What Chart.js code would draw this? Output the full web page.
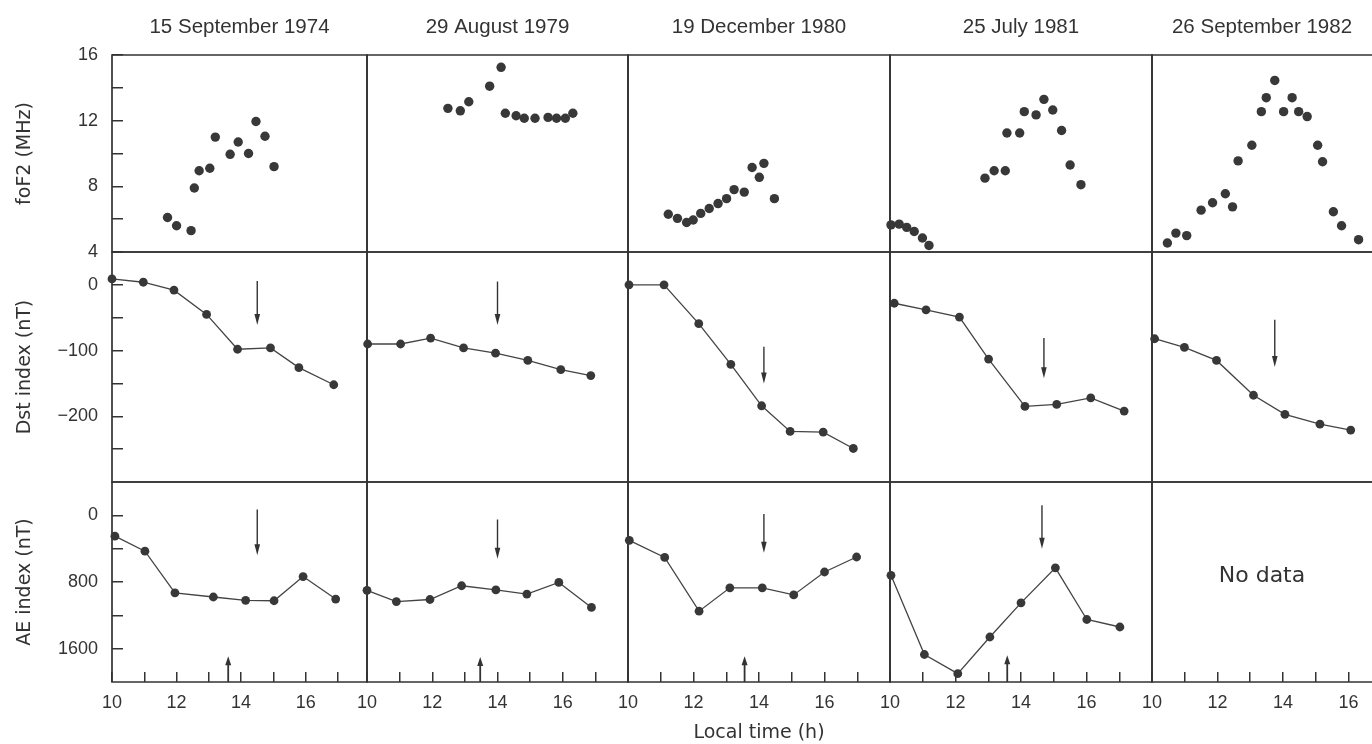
<!DOCTYPE html>
<html><head><meta charset="utf-8">
<script src="https://cdn.jsdelivr.net/npm/chart.js@4.4.1/dist/chart.umd.min.js"></script>
<style>
html,body{margin:0;padding:0;background:#fff;}
#wrap{position:relative;width:1372px;height:744px;overflow:hidden;background:#fff;}
#wrap canvas{position:absolute;}
</style></head><body><div id="wrap"></div>
<script>
// ---------------- DATA ----------------
const dates = ['15 September 1974', '29 August 1979', '19 December 1980', '25 July 1981', '26 September 1982'];

const hourTicks = [10, 11, 12, 13, 14, 15, 16, 17];
const hourLabels = [10, 12, 14, 16];
const fof2Ticks = [4, 6, 8, 10, 12, 14, 16];
const fof2Labels = [4, 8, 12, 16];
const dstTicks = [-250, -200, -150, -100, -50, 0];
const dstLabels = [0, -100, -200];
const aeTicks = [0, 400, 800, 1200, 1600];
const aeLabels = [0, 800, 1600];

// foF2 (MHz) : [local time (h), value]
const fof2_1974 = [[11.72,6.1],[12.0,5.6],[12.45,5.3],[12.55,7.9],[12.7,8.95],[13.03,9.1],[13.2,11.0],[13.66,9.95],[13.91,10.7],[14.23,10.0],[14.46,11.95],[14.74,11.05],[15.02,9.2]];
const fof2_1979 = [[12.48,12.75],[12.86,12.6],[13.12,13.15],[13.76,14.1],[14.11,15.25],[14.24,12.45],[14.57,12.3],[14.82,12.15],[15.15,12.15],[15.55,12.2],[15.81,12.15],[16.08,12.15],[16.31,12.45]];
const fof2_1980 = [[11.23,6.3],[11.51,6.05],[11.79,5.8],[11.99,5.95],[12.22,6.35],[12.48,6.65],[12.75,6.95],[13.01,7.25],[13.24,7.8],[13.55,7.65],[13.79,9.15],[14.01,8.55],[14.15,9.4],[14.47,7.25]];
const fof2_1981 = [[10.03,5.65],[10.28,5.7],[10.51,5.5],[10.74,5.25],[10.99,4.85],[11.19,4.4],[12.9,8.5],[13.18,8.95],[13.52,8.95],[13.57,11.25],[13.96,11.25],[14.1,12.55],[14.46,12.35],[14.7,13.3],[14.97,12.65],[15.24,11.4],[15.5,9.3],[15.83,8.1]];
const fof2_1982 = [[10.47,4.55],[10.73,5.15],[11.06,5.0],[11.5,6.55],[11.85,7.0],[12.24,7.55],[12.46,6.75],[12.63,9.55],[13.05,10.5],[13.34,12.55],[13.49,13.4],[13.75,14.45],[14.02,12.55],[14.28,13.4],[14.48,12.55],[14.74,12.25],[15.06,10.5],[15.21,9.5],[15.54,6.45],[15.79,5.6],[16.31,4.75]];

// Dst index (nT)
const dst_1974 = [[10.0,9],[10.97,4],[11.92,-8],[12.93,-45],[13.89,-98],[14.91,-96],[15.79,-126],[16.87,-152]];
const dst_1979 = [[10.02,-90],[11.03,-90],[11.95,-81],[12.96,-96],[13.94,-104],[14.93,-115],[15.94,-129],[16.86,-138]];
const dst_1980 = [[10.03,0],[11.1,0],[12.16,-59],[13.14,-121],[14.08,-184],[14.95,-223],[15.96,-224],[16.88,-249]];
const dst_1981 = [[10.13,-28],[11.1,-38],[12.12,-49],[13.01,-113],[14.12,-185],[15.09,-182],[16.13,-172],[17.15,-192]];
const dst_1982 = [[10.08,-82],[10.99,-95],[11.97,-115],[13.1,-168],[14.06,-197],[15.13,-212],[16.07,-221]];

// AE index (nT)
const ae_1974 = [[10.09,250],[11.02,430],[11.95,930],[13.14,980],[14.14,1020],[15.02,1025],[15.92,735],[16.93,1005]];
const ae_1979 = [[10.0,900],[10.9,1035],[11.93,1010],[12.9,845],[13.95,895],[14.9,945],[15.88,805],[16.88,1105]];
const ae_1980 = [[10.04,300],[11.12,505],[12.17,1150],[13.11,870],[14.1,870],[15.06,955],[16.0,680],[16.98,500]];
const ae_1981 = [[10.03,720],[11.05,1670],[12.07,1900],[13.05,1460],[14.0,1050],[15.05,630],[16.01,1250],[17.02,1340]];
const ae_1982 = null; // No data

// Arrow annotations: [time, from, to]
const dstArrows = [[14.5,6,-61],[14.0,5,-61],[14.15,-94,-150],[14.7,-81,-142],[13.75,-53,-125]];
const aeDownArrows = [[14.5,-70,480],[14.0,50,520],[14.15,-15,448],[14.64,-120,400]];
const aeUpArrows = [[13.6,1690],[13.47,1700],[13.56,1690],[13.58,1680]];
const noDataText = 'No data';

// ---------------- LAYOUT / STYLE ----------------
const fof2 = [fof2_1974, fof2_1979, fof2_1980, fof2_1981, fof2_1982];
const dst = [dst_1974, dst_1979, dst_1980, dst_1981, dst_1982];
const ae = [ae_1974, ae_1979, ae_1980, ae_1981, ae_1982];

const INK = '#333333';
const DOT = '#383838';
const COLS = [
  {l:112, r:367, xmax:17.9},
  {l:367, r:628, xmax:18},
  {l:628, r:890, xmax:18},
  {l:890, r:1152, xmax:18},
  {l:1152, r:1372, xmax:16.72, open:true}
];
const ROWS = [{t:55, b:252}, {t:252, b:482}, {t:482, b:682}];
const M = 44;
const Y_W = 112, TITLE_H = 55, X_H = 62;

const yDefs = [
  {min:4, max:16, reverse:false, ticks:fof2Ticks, labels:fof2Labels, title:'foF2 (MHz)'},
  {min:-300, max:50, reverse:false, ticks:dstTicks, labels:dstLabels, title:'Dst index (nT)'},
  {min:-400, max:2000, reverse:true, ticks:aeTicks, labels:aeLabels, title:'AE index (nT)'}
];

function drawArrow(ctx, x, y1, y2, head, halfW) {
  const dir = Math.sign(y2 - y1);
  ctx.beginPath();
  ctx.moveTo(x, y1);
  ctx.lineTo(x, y2 - dir * head * 0.7);
  ctx.stroke();
  ctx.beginPath();
  ctx.moveTo(x, y2);
  ctx.lineTo(x - halfW, y2 - dir * head);
  ctx.lineTo(x + halfW, y2 - dir * head);
  ctx.closePath();
  ctx.fill();
}

const marksPlugin = {
  id: 'marks',
  beforeDatasetsDraw(chart, args, o) {
    const {ctx, chartArea: a} = chart;
    ctx.save();
    ctx.strokeStyle = INK;
    ctx.lineWidth = 1.7;
    ctx.lineCap = 'square';
    ctx.beginPath();
    ctx.moveTo(a.left, a.bottom); ctx.lineTo(a.left, a.top); ctx.lineTo(a.right, a.top);
    if (!o.open) { ctx.moveTo(a.right, a.top); ctx.lineTo(a.right, a.bottom); }
    ctx.moveTo(a.left, a.bottom); ctx.lineTo(a.right, a.bottom);
    ctx.stroke();
    ctx.restore();
  },
  afterDatasetsDraw(chart, args, o) {
    const {ctx, chartArea: a} = chart;
    const xs = chart.scales.x, ys = chart.scales.y;
    ctx.save();
    ctx.strokeStyle = INK; ctx.fillStyle = INK; ctx.lineWidth = 1.4;
    if (o.row === 1) {
      const d = dstArrows[o.col];
      if (d) drawArrow(ctx, xs.getPixelForValue(d[0]), ys.getPixelForValue(d[1]), ys.getPixelForValue(d[2]), 11, 2.8);
    }
    if (o.row === 2) {
      const d = aeDownArrows[o.col];
      if (d) drawArrow(ctx, xs.getPixelForValue(d[0]), ys.getPixelForValue(d[1]), ys.getPixelForValue(d[2]), 11, 2.8);
      const u = aeUpArrows[o.col];
      if (u) { ctx.lineWidth = 1.8; drawArrow(ctx, xs.getPixelForValue(u[0]), a.bottom, ys.getPixelForValue(u[1]), 9, 3); }
      if (!ae[o.col]) {
        ctx.font = '22px "DejaVu Sans"';
        ctx.textAlign = 'center'; ctx.textBaseline = 'middle';
        ctx.fillText(noDataText, (a.left + a.right) / 2, ys.getPixelForValue(730));
      }
    }
    ctx.restore();
  }
};

const wrap = document.getElementById('wrap');
const fmt = v => String(v).replace('-', '\u2212');

for (let r = 0; r < 3; r++) {
  for (let c = 0; c < 5; c++) {
    const col = COLS[c], row = ROWS[r], yd = yDefs[r];
    const showX = r === 2, showY = c === 0;
    const exL = showY ? Y_W : 0, exT = r === 0 ? TITLE_H : 0, exB = showX ? X_H : 0;
    const cv = document.createElement('canvas');
    const w = (col.r - col.l) + exL + 2 * M;
    const h = (row.b - row.t) + exT + exB + 2 * M;
    cv.width = w; cv.height = h;
    cv.style.left = (col.l - exL - M) + 'px';
    cv.style.top = (row.t - exT - M) + 'px';
    cv.style.width = w + 'px'; cv.style.height = h + 'px';
    wrap.appendChild(cv);

    const series = r === 0 ? fof2[c] : (r === 1 ? dst[c] : ae[c]);
    const datasets = series ? [{
      data: series.map(p => ({x: p[0], y: p[1]})),
      showLine: r > 0,
      borderColor: '#444',
      borderWidth: 1.3,
      pointRadius: r === 0 ? 4.7 : 4.4,
      pointBackgroundColor: DOT,
      pointBorderColor: DOT,
      pointBorderWidth: 0,
      tension: 0,
      clip: false
    }] : [];

    new Chart(cv, {
      type: 'scatter',
      data: {datasets},
      plugins: [marksPlugin],
      options: {
        animation: false,
        responsive: false,
        devicePixelRatio: 1,
        events: [],
        layout: {padding: M, autoPadding: false},
        plugins: {
          legend: {display: false},
          tooltip: {enabled: false},
          title: r === 0 ? {
            display: true, text: dates[c], fullSize: false, color: INK,
            font: {family: 'Liberation Sans', size: 20.5, weight: 'normal'},
            padding: {top: 15, bottom: 15.4}
          } : {display: false},
          marks: {row: r, col: c, open: !!col.open}
        },
        scales: {
          x: {
            type: 'linear', min: 10, max: col.xmax, display: showX, position: 'bottom',
            afterBuildTicks: s => { s.ticks = hourTicks.filter(v => v < col.xmax).map(v => ({value: v})); },
            afterFit: s => { s.height = showX ? X_H : 0; },
            grid: {display: true, drawOnChartArea: false, drawTicks: true, tickLength: -10, color: INK, lineWidth: 1.5},
            border: {display: false},
            ticks: {
              callback: v => hourLabels.includes(v) ? String(v) : '',
              font: {family: 'Liberation Sans', size: 18}, color: INK, padding: 20,
              maxRotation: 0, minRotation: 0, autoSkip: false
            },
            title: {display: c === 2, text: 'Local time (h)', color: INK,
              font: {family: 'DejaVu Sans', size: 19}, padding: {top: 0, bottom: 0}}
          },
          y: {
            type: 'linear', min: yd.min, max: yd.max, reverse: yd.reverse, display: showY, position: 'left',
            afterBuildTicks: s => { s.ticks = yd.ticks.map(v => ({value: v})); },
            afterFit: s => { s.width = showY ? Y_W : 0; },
            grid: {display: true, drawOnChartArea: false, drawTicks: true, tickLength: -11, color: INK, lineWidth: 1.5},
            border: {display: false},
            ticks: {
              callback: v => yd.labels.includes(v) ? fmt(v) : '',
              font: {family: 'Liberation Sans', size: 18}, color: INK, padding: 25, autoSkip: false
            },
            title: {display: true, text: yd.title, color: INK,
              font: {family: 'DejaVu Sans', size: 19}, padding: {top: 14, bottom: 0}}
          }
        }
      }
    });
  }
}
</script></body></html>
